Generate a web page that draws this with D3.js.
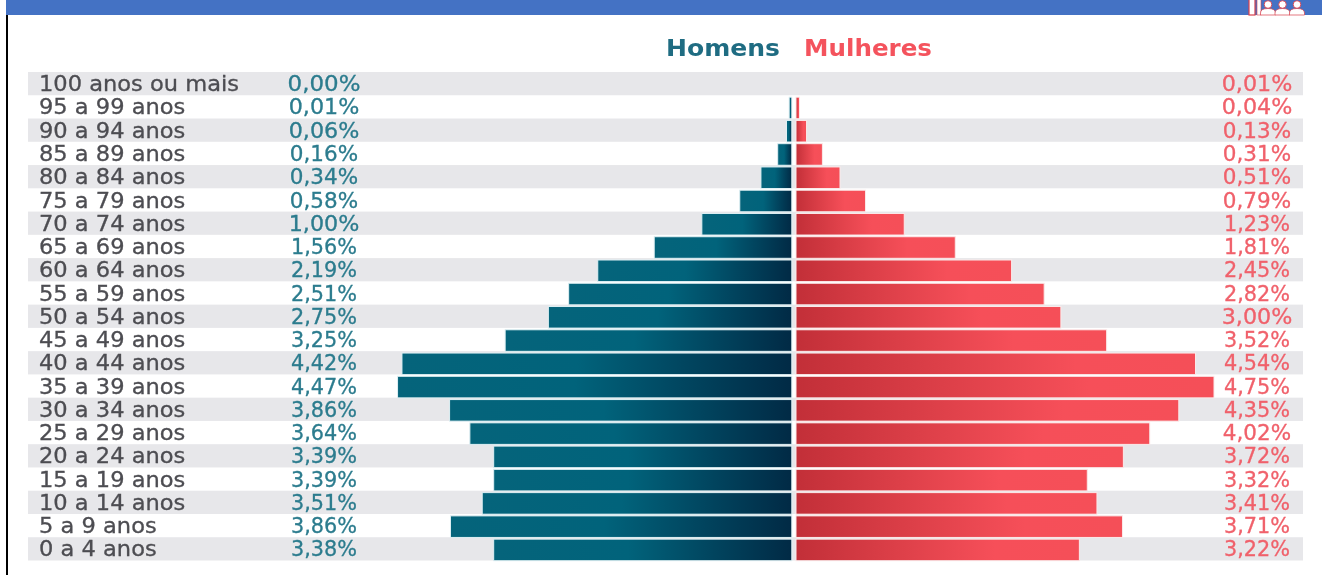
<!DOCTYPE html>
<html><head><meta charset="utf-8">
<script src="https://cdn.jsdelivr.net/npm/d3@7"></script>
<style>html,body{margin:0;padding:0;background:#fff;overflow:hidden}svg{display:block;filter:blur(.6px)}
text{font-family:"DejaVu Sans",sans-serif}</style></head><body>
<svg id="c" width="1322" height="575"></svg>
<script>
const ages=["100 anos ou mais","95 a 99 anos","90 a 94 anos","85 a 89 anos","80 a 84 anos","75 a 79 anos","70 a 74 anos","65 a 69 anos","60 a 64 anos","55 a 59 anos","50 a 54 anos","45 a 49 anos","40 a 44 anos","35 a 39 anos","30 a 34 anos","25 a 29 anos","20 a 24 anos","15 a 19 anos","10 a 14 anos","5 a 9 anos","0 a 4 anos"];
const menLabels=["0,00%","0,01%","0,06%","0,16%","0,34%","0,58%","1,00%","1,56%","2,19%","2,51%","2,75%","3,25%","4,42%","4,47%","3,86%","3,64%","3,39%","3,39%","3,51%","3,86%","3,38%"];
const womenLabels=["0,01%","0,04%","0,13%","0,31%","0,51%","0,79%","1,23%","1,81%","2,45%","2,82%","3,00%","3,52%","4,54%","4,75%","4,35%","4,02%","3,72%","3,32%","3,41%","3,71%","3,22%"];
const menBars=[0,0.03,0.06,0.16,0.35,0.59,1.02,1.56,2.2,2.53,2.76,3.25,4.42,4.47,3.88,3.65,3.38,3.38,3.51,3.87,3.38];
const womenBars=[0,0.04,0.12,0.3,0.5,0.79,1.23,1.81,2.45,2.82,3.01,3.53,4.54,4.75,4.35,4.02,3.72,3.31,3.42,3.71,3.22];
const svg=d3.select("#c");
const y=d3.scaleBand().domain(ages).range([72,560.5]).paddingInner(0).paddingOuter(0);
const xM=d3.scaleLinear().domain([0,5]).range([791.8,350.8]);
const xW=d3.scaleLinear().domain([0,5]).range([796,1236]);
const defs=svg.append("defs");
const gm=defs.append("linearGradient").attr("id","gm");
[[0,"#05647b"],[.45,"#01637b"],[.72,"#014660"],[1,"#012a45"]].forEach(s=>gm.append("stop").attr("offset",s[0]).attr("stop-color",s[1]));
const gw=defs.append("linearGradient").attr("id","gw");
[[0,"#c22f38"],[.35,"#dc3f48"],[.7,"#f64f59"],[1,"#f54f58"]].forEach(s=>gw.append("stop").attr("offset",s[0]).attr("stop-color",s[1]));
// header
svg.append("rect").attr("x",6).attr("y",0).attr("width",1316).attr("height",15).attr("fill","#4472c4");
svg.append("rect").attr("x",6).attr("y",15).attr("width",2).attr("height",560).attr("fill","#000");
// logo
const ic=svg.append("g");
ic.append("rect").attr("x",1249).attr("y",-2).attr("width",6).attr("height",17).attr("fill","#fff").attr("stroke","#d8404c").attr("stroke-width",1.2);
ic.append("rect").attr("x",1257).attr("y",-2).attr("width",4).attr("height",17).attr("fill","#fff").attr("stroke","#d8404c").attr("stroke-width",.6);
[1268,1282.5,1297].forEach(x=>{
 ic.append("path").attr("d",`M${x-7.5},15V13Q${x-7.5},8.5 ${x},8.5Q${x+7.5},8.5 ${x+7.5},13V15Z`).attr("fill","#fff").attr("stroke","#d8404c").attr("stroke-width",.7);
 ic.append("circle").attr("cx",x).attr("cy",4.5).attr("r",3.8).attr("fill","#fff").attr("stroke","#d8404c").attr("stroke-width",.9);
});
// legend
svg.append("text").attr("x",666).attr("y",56).attr("textLength",114).attr("lengthAdjust","spacingAndGlyphs").attr("font-size",23).attr("font-weight",700).attr("fill","#1f6c82").text("Homens");
svg.append("text").attr("x",804).attr("y",56).attr("textLength",128).attr("lengthAdjust","spacingAndGlyphs").attr("font-size",23).attr("font-weight",700).attr("fill","#f4535d").text("Mulheres");
// stripes
svg.selectAll(".stripe").data(ages.filter((d,i)=>i%2==0)).join("rect").attr("class","stripe")
 .attr("x",28).attr("width",1275).attr("y",d=>y(d)).attr("height",y.bandwidth()).attr("fill","#e7e7ea");
// bars
const bh=y.bandwidth();
svg.selectAll(".m").data(ages).join("rect").attr("class","m")
 .attr("x",(d,i)=>xM(menBars[i])).attr("width",(d,i)=>xM(0)-xM(menBars[i]))
 .attr("y",d=>y(d)+1.9).attr("height",bh-1.7).attr("fill","url(#gm)")
 .attr("stroke",(d,i)=>menBars[i]?"#dff0f4":"none").attr("stroke-width",1);
svg.selectAll(".w").data(ages).join("rect").attr("class","w")
 .attr("x",xW(0)).attr("width",(d,i)=>xW(womenBars[i])-xW(0))
 .attr("y",d=>y(d)+1.9).attr("height",bh-1.7).attr("fill","url(#gw)")
 .attr("stroke",(d,i)=>womenBars[i]?"#fbeaea":"none").attr("stroke-width",1);
// labels
const yc=d=>y(d)+bh/2+7.6;
const zeros=s=>s.split("0").length-1;
svg.selectAll(".a").data(ages).join("text").attr("class","a").attr("x",39).attr("y",yc)
 .attr("font-size",20.5).attr("fill","#4d4d52").attr("stroke","#4d4d52").attr("stroke-width",.3).text(d=>d);
svg.selectAll(".a").attr("lengthAdjust","spacingAndGlyphs").attr("textLength",function(){return this.getComputedTextLength()*1.1;});
const num=(cls,labels,x,col)=>svg.selectAll("."+cls).data(ages).join("text").attr("class",cls).attr("x",x).attr("y",yc).attr("text-anchor","middle")
 .attr("font-size",20.5).attr("fill",col).attr("stroke",col).attr("stroke-width",.3)
 .attr("lengthAdjust","spacingAndGlyphs").attr("textLength",(d,i)=>66+2.3*zeros(labels[i])).text((d,i)=>labels[i]);
num("lm",menLabels,324,"#2c7c8e");
num("lw",womenLabels,1257,"#f0616b");
</script></body></html>
